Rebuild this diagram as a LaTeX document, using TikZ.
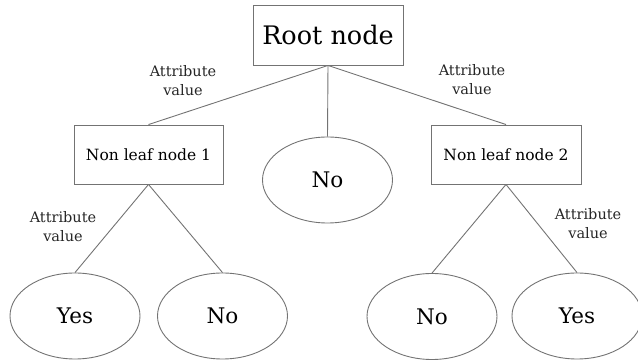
\documentclass[tikz,border=0pt]{standalone}
\usepackage{fontspec}
\setmainfont{DejaVu Serif}
\usetikzlibrary{shapes.geometric}
\begin{document}
\begin{tikzpicture}[x=1pt,y=-1pt,
  box/.style={draw=black!55,line width=0.9pt,rectangle,inner sep=0pt},
  leaf/.style={draw=black!55,line width=0.9pt,ellipse,inner sep=0pt,minimum width=130pt,minimum height=86pt,font=\fontsize{21.5}{26}\selectfont},
  lbl/.style={align=center,font=\fontsize{14.5}{19}\selectfont,text=black!85},
  edge/.style={draw=black!55,line width=0.9pt}]
\useasboundingbox (0,0) rectangle (638,363);
\node[box,minimum width=150pt,minimum height=60pt,font=\fontsize{25.5}{30}\selectfont] (root) at (328,35) {Root node};
\node[box,minimum width=149pt,minimum height=59pt,font=\fontsize{15.5}{20}\selectfont] (n1) at (148.5,154.5) {Non leaf node 1};
\node[box,minimum width=150pt,minimum height=59pt,font=\fontsize{15.5}{20}\selectfont] (n2) at (506,154.5) {Non leaf node 2};
\node[leaf] (mid) at (327.5,180) {No};
\node[leaf] (y1) at (75,316) {Yes};
\node[leaf] (no1) at (222.5,316) {No};
\node[leaf] (no2) at (432,316.5) {No};
\node[leaf] (y2) at (577,316) {Yes};
\draw[edge] (root.south) -- (n1.north);
\draw[edge] (root.south) -- (mid.north);
\draw[edge] (root.south) -- (n2.north);
\draw[edge] (n1.south) -- (y1.north);
\draw[edge] (n1.south) -- (no1.north);
\draw[edge] (n2.south) -- (no2.north);
\draw[edge] (n2.south) -- (y2.north);
\node[lbl] (l1) at (183,81) {Attribute\\value};
\node[lbl] (l2) at (472,80) {Attribute\\value};
\node[lbl] (l3) at (63,227) {Attribute\\value};
\node[lbl] (l4) at (588,224) {Attribute\\value};
\end{tikzpicture}
\end{document}
